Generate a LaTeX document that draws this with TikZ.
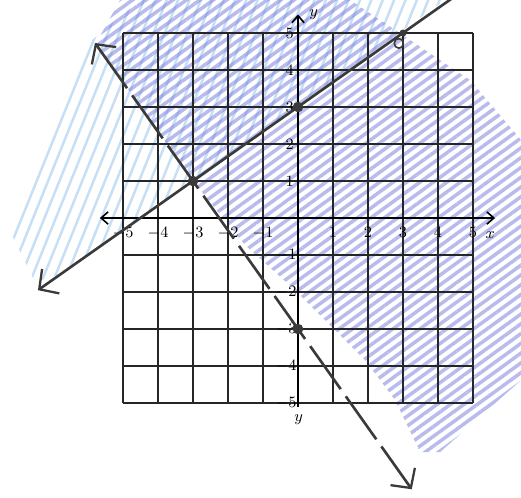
\documentclass[tikz,border=0pt]{standalone}
\usepackage{amsmath}
\usepackage{amssymb}
\usepackage{tikz}
\usetikzlibrary{patterns, patterns.meta, arrows.meta}

\definecolor{chiblue}{HTML}{8EBFEA}
\definecolor{chipurple}{HTML}{7478DA}
\definecolor{butchi}{HTML}{3A3A3A}

\begin{document}
\begin{tikzpicture}[x=0.7cm, y=0.74cm,
    gridline/.style={black!85, line width=0.7pt},
    axisline/.style={black, line width=0.9pt},
    graphline/.style={butchi, line width=1.5pt},
    bigtip/.style={-{Straight Barb[length=8pt, width=17pt, line width=1.3pt]}},
    bigtips/.style={{Straight Barb[length=8pt, width=17pt, line width=1.3pt]}-{Straight Barb[length=8pt, width=17pt, line width=1.3pt]}},
    smalltip/.style={{Straight Barb[length=4pt, width=7pt]}-{Straight Barb[length=4pt, width=7pt]}},
    dot/.style={circle, fill=butchi, inner sep=0pt, minimum size=6pt},
    ticklabel/.style={font=\small, inner sep=1pt}]
            \path[use as bounding box] (-8.514,-7.541) rectangle (6.371,5.892);
            \clip (-8.514,-7.541) rectangle (6.371,5.892);

            % Tô màu miền nghiệm (tọa độ điểm ảnh)
            \begin{scope}[shift={(-8.514,5.892)}, x=0.02cm, y=-0.02cm]
                \fill[pattern={Lines[angle=68, distance=6pt, line width=1.4pt]}, pattern color=chiblue, opacity=0.5]
                    (12,235) -- (45,140) -- (80,50) -- (140,0) -- (445,0) -- (60,274) -- (35,282) -- cycle;
                \fill[pattern={Lines[angle=36, distance=4.5pt, line width=2pt]}, pattern color=chipurple, opacity=0.5]
                    (95,45) -- (120,0) -- (350,0) -- (470,80) -- (521,140) -- (521,380) -- (440,452) -- (420,452)
                    -- (395,400) -- (365,360) -- (295,290) -- (245,245) -- (193,181) -- (123,82) -- cycle;
            \end{scope}

            % Lưới
            \foreach \k in {-5,...,5} {
                \draw[gridline] (\k,-5) -- (\k,5);
                \draw[gridline] (-5,\k) -- (5,\k);
            }

            % Trục tọa độ
            \coordinate (xL) at (-5.66,0);
            \coordinate (xR) at (5.63,0);
            \coordinate (yB) at (0,-5.1);
            \coordinate (yT) at (0,5.5);
            \draw[axisline, smalltip] (xL) -- (xR);
            \draw[axisline, -{Straight Barb[length=4pt, width=7pt]}] (yB) -- (yT);
            \node[font=\small] (xlab) at (5.49,-0.46) {$x$};
            \node[font=\small] (ylab) at (0.45,5.5) {$y$};
            \node[font=\small] (ylab2) at (0.02,-5.45) {$y$};

            \foreach \k in {-5,...,-1} {
                \node[ticklabel] (xt\k) at (\k,-0.4) {$\k$};
                \node[ticklabel, anchor=east] (yt\k) at (0.02,\k) {$\k$};
            }
            \foreach \k in {1,...,5} {
                \node[ticklabel] (xt\k) at (\k,-0.4) {$\k$};
                \node[ticklabel] (yt\k) at (-0.24,\k) {$\k$};
            }

            % Hai đường thẳng
            \coordinate (solidA) at (7,7.67);
            \coordinate (solidB) at (-7.43,-1.95);
            \coordinate (dashA) at (-5.8,4.73);
            \coordinate (dashB) at (3.25,-7.33);
            \draw[graphline, bigtip] (solidA) -- (solidB);
            \draw[graphline, dash pattern=on 30pt off 5pt, bigtips] (dashA) -- (dashB);

            % Các điểm
            \node[dot] (I) at (-3,1) {};
            \node[dot] (B) at (0,3) {};
            \node[dot] (D) at (0,-3) {};
            \node[dot, minimum size=4pt] (C) at (3,5) {};
            \draw[butchi, line width=0.9pt] (2.88,4.72) circle (0.13);
        \end{tikzpicture}
\end{document}
